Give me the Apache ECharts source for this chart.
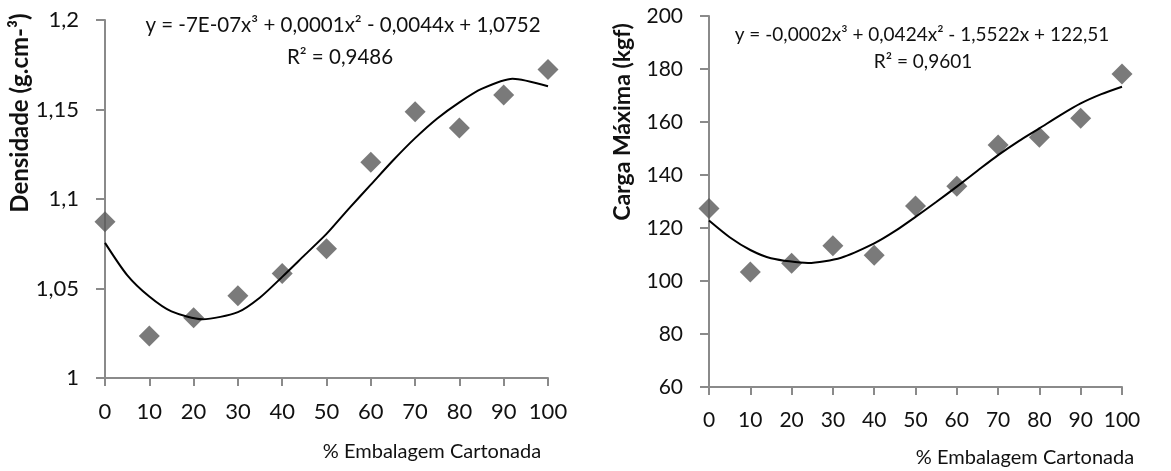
<!DOCTYPE html>
<html>
<head>
<meta charset="utf-8">
<script src="https://cdn.jsdelivr.net/npm/echarts@6/dist/echarts.min.js"></script>
<style>
  html, body { margin: 0; padding: 0; background: #fff; }
  #chart { width: 1171px; height: 471px; }
</style>
</head>
<body>
<div id="chart"></div>
<script>
// % embalagem cartonada
var pct = [0, 10, 20, 30, 40, 50, 60, 70, 80, 90, 100];
var densidade = [1.0873, 1.0235, 1.0337, 1.0460, 1.0584, 1.0722, 1.1206, 1.1487, 1.1396, 1.1581, 1.1724];
var carga = [127.4, 103.4, 106.7, 113.3, 109.7, 128.3, 135.8, 151.3, 154.2, 161.4, 178.1];

// polynomial trend lines (extremes included as points)
var densTrendX = [0, 5, 10, 15, 22, 30, 35, 40, 45, 50, 55, 60, 65, 70, 75, 80, 85, 92, 100];
var densTrend = [1.0755, 1.0575, 1.0455, 1.0372, 1.0328, 1.0368, 1.0450, 1.0565, 1.0685, 1.0805,
    1.0945, 1.1080, 1.1215, 1.1340, 1.1450, 1.1540, 1.1615, 1.1672, 1.1630];
var cargaTrendX = [0, 5, 10, 15, 24, 32, 40, 45, 50, 55, 60, 65, 70, 75, 80, 85, 90, 95, 100];
var cargaTrend = [122.8, 116.5, 111.7, 108.6, 106.8, 108.8, 114.2, 118.8, 124.2,
    129.8, 135.6, 141.6, 147.5, 152.8, 157.6, 162.5, 167.0, 170.5, 173.3];

var eqDens = ['y = -7E-07x³ + 0,0001x² - 0,0044x + 1,0752', 'R² = 0,9486'];
var eqCarga = ['y = -0,0002x³ + 0,0424x² - 1,5522x + 122,51', 'R² = 0,9601'];

var font = 'Lato, "Open Sans", sans-serif';
var axisGray = '#8a8a8a';
var markGray = '#595959';

function pairs(xs, ys) {
    return xs.map(function (x, i) { return [x, ys[i]]; });
}
function comma(v) {
    return String(+v.toFixed(2)).replace('.', ',');
}

function xAxisOf(gridIndex, size) {
    return {
        type: 'value', gridIndex: gridIndex,
        min: 0, max: 100, interval: 10,
        splitLine: { show: false },
        axisLine: { onZero: false, lineStyle: { color: axisGray, width: 2 } },
        axisTick: { length: 8, lineStyle: { color: axisGray, width: 2 } },
        axisLabel: { color: '#111', fontFamily: font, fontSize: size, margin: 23 }
    };
}
function yAxisOf(gridIndex, min, max, interval, size) {
    return {
        type: 'value', gridIndex: gridIndex,
        min: min, max: max, interval: interval,
        splitLine: { show: false },
        axisLine: { show: true, lineStyle: { color: axisGray, width: 2 } },
        axisTick: { show: true, length: 9, lineStyle: { color: axisGray, width: 2 } },
        axisLabel: { color: '#111', fontFamily: font, fontSize: size, margin: 26, formatter: comma }
    };
}
function txt(x, y, text, f, rot) {
    return {
        type: 'text', x: x, y: y, rotation: rot || 0,
        style: { text: text, font: f, fill: '#111', textAlign: 'center', textVerticalAlign: 'middle' }
    };
}

var option = {
    animation: false,
    backgroundColor: '#fff',
    grid: [
        { left: 105, top: 20, width: 443, height: 358 },
        { left: 709, top: 16, width: 413, height: 371 }
    ],
    xAxis: [xAxisOf(0, 22), xAxisOf(1, 21)],
    yAxis: [yAxisOf(0, 1, 1.2, 0.05, 22), yAxisOf(1, 60, 200, 20, 21)],
    graphic: [
        txt(343, 25, eqDens[0], '20.5px ' + font),
        txt(340, 57, eqDens[1], '20.5px ' + font),
        txt(922, 35, eqCarga[0], '19px ' + font),
        txt(923, 62, eqCarga[1], '19px ' + font),
        txt(20, 113, 'Densidade (g.cm-³)', 'bold 24px ' + font, Math.PI / 2),
        txt(623, 122, 'Carga Máxima (kgf)', 'bold 23px ' + font, Math.PI / 2),
        txt(432, 452, '% Embalagem Cartonada', '20px ' + font),
        txt(1025, 458, '% Embalagem Cartonada', '20px ' + font)
    ],
    series: [
        {
            type: 'scatter', xAxisIndex: 0, yAxisIndex: 0,
            symbol: 'diamond', symbolSize: 21,
            itemStyle: { color: markGray },
            data: pairs(pct, densidade)
        },
        {
            type: 'line', xAxisIndex: 0, yAxisIndex: 0,
            smooth: 0.25, showSymbol: false, z: 5,
            lineStyle: { color: '#000', width: 2 },
            data: pairs(densTrendX, densTrend)
        },
        {
            type: 'scatter', xAxisIndex: 1, yAxisIndex: 1,
            symbol: 'diamond', symbolSize: 21,
            itemStyle: { color: markGray },
            data: pairs(pct, carga)
        },
        {
            type: 'line', xAxisIndex: 1, yAxisIndex: 1,
            smooth: 0.25, showSymbol: false, z: 5,
            lineStyle: { color: '#000', width: 2 },
            data: pairs(cargaTrendX, cargaTrend)
        }
    ]
};

echarts.init(document.getElementById('chart')).setOption(option);
</script>
</body>
</html>
